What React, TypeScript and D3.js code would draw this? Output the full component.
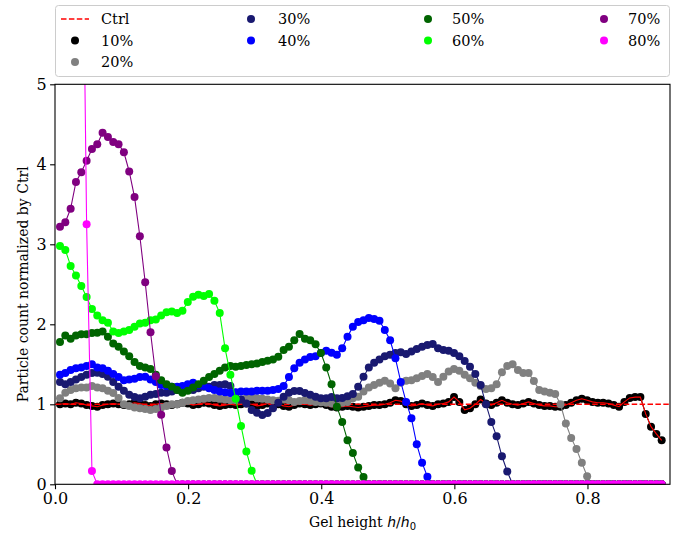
import React, { useEffect, useRef } from "react";
import * as d3 from "d3";

// bins along the gel height: first bin centre and bin width (h/h0)
const H_FIRST = 0.0075;
const H_STEP = 0.008;

const X_TICKS = [0, 0.2, 0.4, 0.6, 0.8];
const Y_TICKS = [0, 1, 2, 3, 4, 5];
const CTRL_LEVEL = 1;

// particle count normalized by Ctrl, one value per bin
const pct10 = [
  1.0, 1.01, 1.0, 1.02, 1.01, 0.99, 0.98, 0.97, 0.99, 1.0,
  1.01, 1.0, 0.99, 1.0, 1.02, 1.01, 0.99, 0.98, 1.0, 1.01,
  1.0, 0.99, 1.0, 1.02, 1.01, 0.99, 1.0, 1.02, 1.01, 0.99,
  0.98, 0.99, 1.0, 0.99, 1.0, 1.01, 1.0, 0.98, 0.99, 1.01,
  1.02, 1.0, 0.98, 0.97, 0.99, 1.01, 1.0, 0.99, 1.0, 1.01,
  0.99, 0.97, 0.96, 0.97, 0.98, 0.97, 0.96, 0.97, 0.98, 0.99,
  0.99, 1.0, 1.02, 1.05, 1.04, 1.0, 0.98, 0.99, 1.01, 0.99,
  0.98, 1.0, 1.01, 1.03, 1.09, 1.03, 0.93, 0.95, 1.0, 1.06,
  1.01, 0.99, 1.02, 1.05, 1.02, 1.0, 0.99, 1.01, 1.03, 1.01,
  0.99, 0.98, 0.98, 0.97, 0.97, 0.99, 1.02, 1.05, 1.07, 1.05,
  1.03, 1.02, 1.02, 1.01, 0.99, 0.97, 1.03, 1.08, 1.09, 1.09,
  0.88, 0.72, 0.63, 0.55,
];

const pct20 = [
  1.075, 1.145, 1.18, 1.2, 1.21, 1.21, 1.23, 1.21, 1.2, 1.17,
  1.14, 1.08, 1.0, 0.98, 0.96, 0.95, 0.94, 0.93, 0.94, 0.96,
  0.98, 1.0, 1.0, 1.02, 1.04, 1.05, 1.06, 1.07, 1.08, 1.08,
  1.07, 1.06, 1.05, 1.05, 1.06, 1.08, 1.095, 1.075, 1.07, 1.06,
  1.05, 1.045, 1.06, 1.05, 1.03, 1.04, 1.05, 1.04, 1.03, 1.025,
  1.02, 1.01, 1.01, 1.02, 1.03, 1.075, 1.095, 1.16, 1.21, 1.24,
  1.27, 1.295, 1.26, 1.2, 1.27, 1.295, 1.3, 1.325, 1.355, 1.38,
  1.34, 1.28, 1.345, 1.41, 1.44, 1.42, 1.37, 1.325, 1.27, 1.23,
  1.19, 1.2, 1.25, 1.4, 1.48, 1.5, 1.43, 1.39, 1.39, 1.29,
  1.18, 1.16, 1.145, 1.13, 1.0, 0.76, 0.58, 0.44, 0.27, 0.1,
  0, 0, 0, 0, 0, 0, 0, 0, 0, 0,
  0, 0, 0, 0,
];

const pct30 = [
  1.28, 1.25, 1.28, 1.31, 1.34, 1.37, 1.39, 1.395, 1.38, 1.345,
  1.28, 1.22, 1.17, 1.12, 1.09, 1.075, 1.095, 1.12, 1.13, 1.145,
  1.145, 1.16, 1.18, 1.2, 1.18, 1.18, 1.2, 1.22, 1.22, 1.24,
  1.24, 1.25, 1.23, 1.145, 1.06, 1.01, 0.93, 0.895, 0.866, 0.89,
  0.95, 1.02, 1.095, 1.145, 1.165, 1.165, 1.14, 1.12, 1.095, 1.075,
  1.075, 1.09, 1.075, 1.08, 1.1, 1.13, 1.22, 1.345, 1.46, 1.52,
  1.56, 1.6, 1.62, 1.64, 1.65, 1.63, 1.66, 1.69, 1.72, 1.74,
  1.755, 1.7, 1.68, 1.67, 1.64, 1.6, 1.54, 1.47, 1.38, 1.24,
  1.0, 0.78, 0.6, 0.35, 0.16, 0, 0, 0, 0, 0,
  0, 0, 0, 0, 0, 0, 0, 0, 0, 0,
  0, 0, 0, 0, 0, 0, 0, 0, 0, 0,
  0, 0, 0, 0,
];

const pct40 = [
  1.37, 1.39, 1.43, 1.45, 1.46, 1.48, 1.5, 1.46, 1.45, 1.42,
  1.38, 1.34, 1.3, 1.31, 1.32, 1.34, 1.345, 1.31, 1.28, 1.24,
  1.23, 1.22, 1.22, 1.23, 1.25, 1.27, 1.24, 1.23, 1.2, 1.18,
  1.16, 1.15, 1.14, 1.15, 1.16, 1.16, 1.16, 1.17, 1.17, 1.17,
  1.18, 1.19, 1.23, 1.34, 1.45, 1.52, 1.56, 1.59, 1.6, 1.64,
  1.67, 1.645, 1.62, 1.7, 1.845, 1.97, 2.03, 2.05, 2.08, 2.065,
  2.045, 1.93, 1.8, 1.575, 1.28, 1.03, 0.825, 0.5, 0.27, 0.095,
  0, 0, 0, 0, 0, 0, 0, 0, 0, 0,
  0, 0, 0, 0, 0, 0, 0, 0, 0, 0,
  0, 0, 0, 0, 0, 0, 0, 0, 0, 0,
  0, 0, 0, 0, 0, 0, 0, 0, 0, 0,
  0, 0, 0, 0,
];

const pct50 = [
  1.78, 1.86, 1.82, 1.86, 1.875, 1.875, 1.89, 1.895, 1.91, 1.845,
  1.76, 1.72, 1.66, 1.6, 1.53, 1.48, 1.46, 1.44, 1.37, 1.3,
  1.25, 1.22, 1.18, 1.145, 1.17, 1.21, 1.25, 1.295, 1.34, 1.38,
  1.42, 1.46, 1.48, 1.47, 1.48, 1.49, 1.5, 1.51, 1.53, 1.545,
  1.56, 1.595, 1.68, 1.72, 1.8, 1.88, 1.82, 1.8, 1.75, 1.64,
  1.46, 1.25, 0.97, 0.78, 0.55, 0.39, 0.21, 0.09, 0, 0,
  0, 0, 0, 0, 0, 0, 0, 0, 0, 0,
  0, 0, 0, 0, 0, 0, 0, 0, 0, 0,
  0, 0, 0, 0, 0, 0, 0, 0, 0, 0,
  0, 0, 0, 0, 0, 0, 0, 0, 0, 0,
  0, 0, 0, 0, 0, 0, 0, 0, 0, 0,
  0, 0, 0, 0,
];

const pct60 = [
  2.98, 2.93, 2.73, 2.61, 2.48, 2.34, 2.19, 2.11, 2.05, 2.02,
  1.91, 1.89, 1.91, 1.93, 1.97, 2.01, 2.02, 2.05, 2.06, 2.11,
  2.15, 2.16, 2.14, 2.17, 2.28, 2.345, 2.37, 2.355, 2.38, 2.295,
  2.14, 1.7, 1.37, 1.07, 0.73, 0.41, 0.17, 0, 0, 0,
  0, 0, 0, 0, 0, 0, 0, 0, 0, 0,
  0, 0, 0, 0, 0, 0, 0, 0, 0, 0,
  0, 0, 0, 0, 0, 0, 0, 0, 0, 0,
  0, 0, 0, 0, 0, 0, 0, 0, 0, 0,
  0, 0, 0, 0, 0, 0, 0, 0, 0, 0,
  0, 0, 0, 0, 0, 0, 0, 0, 0, 0,
  0, 0, 0, 0, 0, 0, 0, 0, 0, 0,
  0, 0, 0, 0,
];

const pct70 = [
  3.22, 3.275, 3.445, 3.78, 3.9, 4.045, 4.19, 4.25, 4.395, 4.34,
  4.28, 4.25, 4.15, 3.91, 3.59, 3.1, 2.525, 1.9, 1.35, 0.87,
  0.46, 0.165, 0, 0, 0, 0, 0, 0, 0, 0,
  0, 0, 0, 0, 0, 0, 0, 0, 0, 0,
  0, 0, 0, 0, 0, 0, 0, 0, 0, 0,
  0, 0, 0, 0, 0, 0, 0, 0, 0, 0,
  0, 0, 0, 0, 0, 0, 0, 0, 0, 0,
  0, 0, 0, 0, 0, 0, 0, 0, 0, 0,
  0, 0, 0, 0, 0, 0, 0, 0, 0, 0,
  0, 0, 0, 0, 0, 0, 0, 0, 0, 0,
  0, 0, 0, 0, 0, 0, 0, 0, 0, 0,
  0, 0, 0, 0,
];

const pct80 = [
  9.9, 10.6, 11.3, 10.2, 8.8, 3.25, 0.165, 0, 0, 0,
  0, 0, 0, 0, 0, 0, 0, 0, 0, 0,
  0, 0, 0, 0, 0, 0, 0, 0, 0, 0,
  0, 0, 0, 0, 0, 0, 0, 0, 0, 0,
  0, 0, 0, 0, 0, 0, 0, 0, 0, 0,
  0, 0, 0, 0, 0, 0, 0, 0, 0, 0,
  0, 0, 0, 0, 0, 0, 0, 0, 0, 0,
  0, 0, 0, 0, 0, 0, 0, 0, 0, 0,
  0, 0, 0, 0, 0, 0, 0, 0, 0, 0,
  0, 0, 0, 0, 0, 0, 0, 0, 0, 0,
  0, 0, 0, 0, 0, 0, 0, 0, 0, 0,
  0, 0, 0, 0,
];

const SERIES = [
  { label: "10%", color: "#000000", line: "#ff0000", values: pct10 },
  { label: "20%", color: "#808080", line: "#808080", values: pct20 },
  { label: "30%", color: "#191970", line: "#191970", values: pct30 },
  { label: "40%", color: "#0000ff", line: "#0000ff", values: pct40 },
  { label: "50%", color: "#006400", line: "#006400", values: pct50 },
  { label: "60%", color: "#00ff00", line: "#00ff00", values: pct60 },
  { label: "70%", color: "#800080", line: "#800080", values: pct70 },
  { label: "80%", color: "#ff00ff", line: "#ff00ff", values: pct80 },
];

const SERIF = "'DejaVu Serif', serif";
const SANS = "'DejaVu Sans', sans-serif";

const App: React.FC = () => {
  const svgRef = useRef<SVGSVGElement>(null);

  useEffect(() => {
    if (!svgRef.current) return;
    const svg = d3.select(svgRef.current);
    svg.selectAll("*").remove();

    const width = 680;
    const height = 536;
    const plot = { left: 55, right: 670, top: 84.3, bottom: 484.3 };

    const x = d3.scaleLinear().domain([0, 0.924]).range([plot.left, plot.right]);
    const y = d3.scaleLinear().domain([0, 5]).range([plot.bottom, plot.top]);
    const hAt = (i: number) => H_FIRST + i * H_STEP;

    svg.attr("width", width).attr("height", height);
    svg.append("rect").attr("width", width).attr("height", height).attr("fill", "#fff");

    svg
      .append("defs")
      .append("clipPath")
      .attr("id", "plot-clip")
      .append("rect")
      .attr("x", plot.left)
      .attr("y", plot.top)
      .attr("width", plot.right - plot.left)
      .attr("height", plot.bottom - plot.top);

    const chart = svg.append("g").attr("clip-path", "url(#plot-clip)");

    const line = d3
      .line<number>()
      .x((_, i) => x(hAt(i)))
      .y((d) => y(d));

    const drawSeries = (s: (typeof SERIES)[number]) => {
      const g = chart.append("g");
      g.append("path")
        .attr("d", line(s.values))
        .attr("fill", "none")
        .attr("stroke", s.color)
        .attr("stroke-width", 1.1);
      g.selectAll("circle")
        .data(s.values)
        .enter()
        .append("circle")
        .attr("cx", (_, i) => x(hAt(i)))
        .attr("cy", (d) => y(d))
        .attr("r", 4)
        .attr("fill", s.color);
      if (s.line !== s.color) {
        g.append("path")
          .attr("d", line(s.values))
          .attr("fill", "none")
          .attr("stroke", s.line)
          .attr("stroke-width", 1.1);
      }
    };

    drawSeries(SERIES[0]);

    // Ctrl reference level
    chart
      .append("line")
      .attr("x1", plot.left)
      .attr("x2", plot.right)
      .attr("y1", y(CTRL_LEVEL))
      .attr("y2", y(CTRL_LEVEL))
      .attr("stroke", "#ff0000")
      .attr("stroke-width", 1.5)
      .attr("stroke-dasharray", "5.5,2.4");

    SERIES.slice(1).forEach(drawSeries);

    // Axes
    const xAxis = d3
      .axisBottom(x)
      .tickValues(X_TICKS)
      .tickFormat((d) => d3.format(".1f")(d as number))
      .tickSize(4.9)
      .tickPadding(3.5);
    svg
      .append("g")
      .attr("transform", `translate(0,${plot.bottom})`)
      .call(xAxis)
      .call((g) => g.select(".domain").remove())
      .call((g) => g.selectAll(".tick line").attr("stroke", "#000").attr("stroke-width", 1.1))
      .call((g) =>
        g.selectAll("text").attr("fill", "#000").attr("font-family", SERIF).attr("font-size", "16px")
      );

    const yAxis = d3
      .axisLeft(y)
      .tickValues(Y_TICKS)
      .tickFormat((d) => d3.format("d")(d as number))
      .tickSize(4.9)
      .tickPadding(3.5);
    svg
      .append("g")
      .attr("transform", `translate(${plot.left},0)`)
      .call(yAxis)
      .call((g) => g.select(".domain").remove())
      .call((g) => g.selectAll(".tick line").attr("stroke", "#000").attr("stroke-width", 1.1))
      .call((g) =>
        g.selectAll("text").attr("fill", "#000").attr("font-family", SERIF).attr("font-size", "16px")
      );

    // Spines
    svg
      .append("rect")
      .attr("x", plot.left)
      .attr("y", plot.top)
      .attr("width", plot.right - plot.left)
      .attr("height", plot.bottom - plot.top)
      .attr("fill", "none")
      .attr("stroke", "#000")
      .attr("stroke-width", 1.1);

    // Axis labels
    const xLabel = svg
      .append("text")
      .attr("x", (plot.left + plot.right) / 2)
      .attr("y", 527)
      .attr("text-anchor", "middle")
      .attr("font-family", SERIF)
      .attr("font-size", "14px")
      .attr("fill", "#000");
    xLabel.append("tspan").text("Gel height ");
    xLabel.append("tspan").attr("font-family", SANS).attr("font-style", "italic").text("h");
    xLabel.append("tspan").attr("font-family", SANS).text("/");
    xLabel.append("tspan").attr("font-family", SANS).attr("font-style", "italic").text("h");
    xLabel
      .append("tspan")
      .attr("font-family", SANS)
      .attr("font-size", "10px")
      .attr("dy", 3)
      .text("0");

    svg
      .append("text")
      .attr("transform", `translate(28,${(plot.top + plot.bottom) / 2}) rotate(-90)`)
      .attr("text-anchor", "middle")
      .attr("font-family", SERIF)
      .attr("font-size", "14px")
      .attr("fill", "#000")
      .text("Particle count normalized by Ctrl");

    // Legend (4 columns, filled column by column)
    const legend = svg.append("g");
    legend
      .append("rect")
      .attr("x", 55.5)
      .attr("y", 5.5)
      .attr("width", 614)
      .attr("height", 71)
      .attr("rx", 3)
      .attr("fill", "#fff")
      .attr("fill-opacity", 0.8)
      .attr("stroke", "#cccccc")
      .attr("stroke-width", 1);

    const colHandle = [75, 251, 428, 604];
    const colText = [101, 278, 452, 628];
    const rowY = [19, 40.5, 62];
    const entries = [
      { label: "Ctrl", color: "#ff0000", dashed: true },
      ...SERIES.map((s) => ({ label: s.label, color: s.color, dashed: false })),
    ];
    const slots = [
      [0, 0], [0, 1], [0, 2],
      [1, 0], [1, 1],
      [2, 0], [2, 1],
      [3, 0], [3, 1],
    ];
    entries.forEach((e, k) => {
      const [c, r] = slots[k];
      const cy = rowY[r];
      if (e.dashed) {
        legend
          .append("line")
          .attr("x1", colHandle[c] - 14)
          .attr("x2", colHandle[c] + 14)
          .attr("y1", cy)
          .attr("y2", cy)
          .attr("stroke", e.color)
          .attr("stroke-width", 1.5)
          .attr("stroke-dasharray", "5.5,2.4");
      } else {
        legend
          .append("circle")
          .attr("cx", colHandle[c])
          .attr("cy", cy)
          .attr("r", 4)
          .attr("fill", e.color);
      }
      legend
        .append("text")
        .attr("x", colText[c])
        .attr("y", cy)
        .attr("dy", "0.36em")
        .attr("font-family", SERIF)
        .attr("font-size", "14.5px")
        .attr("fill", "#000")
        .text(e.label);
    });
  }, []);

  return (
    <svg
      ref={svgRef}
      style={{ position: "absolute", left: 0, top: 0, display: "block" }}
    />
  );
};

export default App;
